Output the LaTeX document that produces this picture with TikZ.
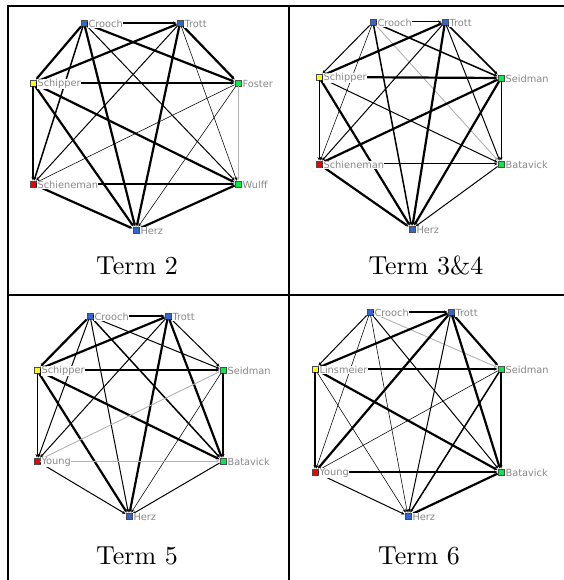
\documentclass[tikz,border=0pt]{standalone}
\usepackage{fontspec}
\newfontfamily\labfont{DejaVu Sans}
\usetikzlibrary{arrows.meta}
\definecolor{nblue}{HTML}{3366CC}
\definecolor{nyel}{HTML}{FFFF00}
\definecolor{nred}{HTML}{EE0000}
\definecolor{ngreen}{HTML}{00EE44}
\definecolor{labgray}{HTML}{888888}
\tikzset{
  sq/.style={draw=black!70, line width=0.4pt, rectangle, minimum size=6.5pt, inner sep=0pt},
  lbl/.style={anchor=west, fill=white, inner sep=0.3pt, text=labgray, font=\labfont\fontsize{9.8}{10}\selectfont},
  termcap/.style={anchor=base, scale=2.6, font=\normalsize},
  tbl/.style={line width=2pt, line cap=rect},
  conn/.style={-{Stealth[length=3.5pt,width=3pt]}},
  w1/.style={conn, line width=0.55pt},
  w2/.style={conn, line width=1.0pt},
  w3/.style={conn, line width=1.5pt},
  w4/.style={conn, line width=2.2pt},
  wg/.style={conn, line width=0.9pt, draw=black!30},
}
\begin{document}
\begin{tikzpicture}[x=1pt,y=-1pt]
\useasboundingbox (0,0) rectangle (563,580);
% table
\draw[tbl] (563,6) -- (7.7,6) -- (7.7,580);
\draw[tbl] (288.7,6) -- (288.7,580);
\draw[tbl] (7.7,295) -- (563,295);
% ---------- panel 1 nodes
\node[sq, fill=nblue]  (aC)  at (84,23)  {};
\node[sq, fill=nblue]  (aT)  at (180,23) {};
\node[sq, fill=nyel]   (aSc) at (33,83)  {};
\node[sq, fill=ngreen] (aF)  at (238,83) {};
\node[sq, fill=nred]   (aSn) at (33,184) {};
\node[sq, fill=ngreen] (aW)  at (238,184) {};
\node[sq, fill=nblue]  (aH)  at (136,230) {};
% ---------- panel 2 nodes
\node[sq, fill=nblue]  (bC)  at (373,22)  {};
\node[sq, fill=nblue]  (bT)  at (445,22)  {};
\node[sq, fill=nyel]   (bSc) at (319,77)  {};
\node[sq, fill=ngreen] (bSe) at (501,78)  {};
\node[sq, fill=nred]   (bSn) at (319,164) {};
\node[sq, fill=ngreen] (bB)  at (501,164) {};
\node[sq, fill=nblue]  (bH)  at (412,229) {};
% ---------- panel 3 nodes
\node[sq, fill=nblue]  (cC)  at (90,316)  {};
\node[sq, fill=nblue]  (cT)  at (168,316) {};
\node[sq, fill=nyel]   (cSc) at (37,370)  {};
\node[sq, fill=ngreen] (cSe) at (223,370) {};
\node[sq, fill=nred]   (cY)  at (37,461)  {};
\node[sq, fill=ngreen] (cB)  at (223,461) {};
\node[sq, fill=nblue]  (cH)  at (129,516) {};
% ---------- panel 4 nodes
\node[sq, fill=nblue]  (dC)  at (370,312) {};
\node[sq, fill=nblue]  (dT)  at (451,312) {};
\node[sq, fill=nyel]   (dL)  at (315,369) {};
\node[sq, fill=ngreen] (dSe) at (501,369) {};
\node[sq, fill=nred]   (dY)  at (315,472) {};
\node[sq, fill=ngreen] (dB)  at (501,472) {};
\node[sq, fill=nblue]  (dH)  at (408,516) {};
% ---------- connectors
\foreach \a/\b/\s in {
  aC/aT/w4, aC/aSc/w4, aC/aSn/w3, aC/aH/w4, aC/aF/w4, aC/aW/w2,
  aT/aSc/w4, aT/aF/w4, aT/aSn/w2, aT/aH/w4, aT/aW/w1,
  aSc/aF/w3, aSc/aSn/w3, aSc/aW/w4, aSc/aH/w4,
  aF/aSn/w1, aF/aW/wg, aF/aH/w1,
  aSn/aW/w4, aSn/aH/w4, aW/aH/w4,
  bC/bT/w2, bC/bSc/w2, bC/bSn/w1, bC/bH/w3, bC/bSe/w3, bC/bB/wg,
  bT/bSc/w4, bT/bSe/w3, bT/bSn/w2, bT/bH/w4, bT/bB/w2,
  bSc/bSe/w4, bSc/bSn/w2, bSc/bB/w2, bSc/bH/w4,
  bSe/bSn/w4, bSe/bB/w2, bSe/bH/w4,
  bSn/bB/w2, bSn/bH/w4, bB/bH/w2,
  cC/cT/w4, cC/cSc/w4, cC/cY/w2, cC/cH/w2, cC/cSe/w2, cC/cB/w3,
  cT/cSc/w4, cT/cSe/w2, cT/cY/w2, cT/cH/w4, cT/cB/w4,
  cSc/cSe/w3, cSc/cY/w2, cSc/cB/w4, cSc/cH/w4,
  cSe/cY/wg, cSe/cB/w4, cSe/cH/w1,
  cY/cB/wg, cY/cH/w2, cB/cH/w2,
  dC/dT/w3, dC/dL/w2, dC/dY/w1, dC/dH/w1, dC/dSe/wg, dC/dB/w2,
  dT/dL/w4, dT/dSe/w4, dT/dY/w4, dT/dH/w2, dT/dB/w4,
  dL/dSe/w3, dL/dY/w4, dL/dB/w4, dL/dH/w1,
  dSe/dY/w1, dSe/dB/w4, dSe/dH/w3,
  dY/dB/w3, dY/dH/w2, dB/dH/w4}
  \draw[\s] (\a) -- (\b);
% ---------- labels
\foreach \n/\t in {aC/Crooch, aT/Trott, aSc/Schipper, aF/Foster, aSn/Schieneman, aW/Wulff, aH/Herz,
  bC/Crooch, bT/Trott, bSc/Schipper, bSe/Seidman, bSn/Schieneman, bB/Batavick, bH/Herz,
  cC/Crooch, cT/Trott, cSc/Schipper, cSe/Seidman, cY/Young, cB/Batavick, cH/Herz,
  dC/Crooch, dT/Trott, dL/Linsmeier, dSe/Seidman, dY/Young, dB/Batavick, dH/Herz}
  \node[lbl] (l\n) at ([xshift=0.6pt,yshift=-1pt]\n.east) {\t};
% ---------- captions
\node[termcap] (capA) at (137,274) {Term 2};
\node[termcap] (capB) at (426,274) {Term 3\&4};
\node[termcap] (capC) at (137,564) {Term 5};
\node[termcap] (capD) at (419,564) {Term 6};
\end{tikzpicture}
\end{document}
